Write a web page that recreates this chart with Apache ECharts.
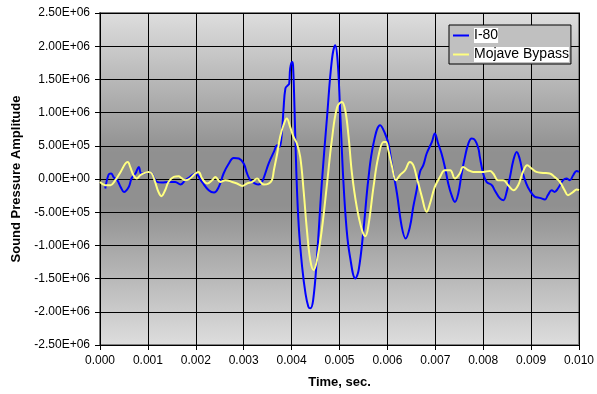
<!DOCTYPE html>
<html>
<head>
<meta charset="utf-8">
<script src="https://cdn.jsdelivr.net/npm/echarts@6/dist/echarts.min.js"></script>
<style>html,body{margin:0;padding:0;background:#fff}#c{width:597px;height:394px}</style>
</head>
<body>
<div id="c"></div>
<script>
var seriesNames = ['I-80', 'Mojave Bypass'];
var xTitle = 'Time, sec.';
var yTitle = 'Sound Pressure Amplitude';

var i80Time = [0.00011,0.00018,0.00023,0.00029,0.00036,0.00043,0.0005,0.0006,0.00066,0.00074,0.00081,0.00086,0.00093,0.00101,0.00108,0.00119,0.00129,0.00143,0.00157,0.00168,0.00178,0.00188,0.00199,0.00213,0.00227,0.00238,0.00248,0.00258,0.00269,0.00279,0.0029,0.003,0.00307,0.00314,0.00324,0.00331,0.00338,0.00345,0.00352,0.00363,0.0037,0.00375,0.0038,0.00383,0.00387,0.00392,0.00395,0.00397,0.00401,0.00403,0.00406,0.0041,0.00415,0.00422,0.00429,0.00435,0.00439,0.00445,0.00453,0.00463,0.00474,0.00484,0.00491,0.00496,0.00501,0.00508,0.00515,0.00522,0.00533,0.0054,0.0055,0.0056,0.00571,0.00585,0.00595,0.00602,0.00609,0.0062,0.0063,0.00638,0.00647,0.00654,0.00661,0.00668,0.00675,0.00682,0.00693,0.00699,0.00706,0.00713,0.0072,0.00727,0.00734,0.00741,0.00748,0.00755,0.00762,0.00769,0.00776,0.00783,0.0079,0.00793,0.008,0.00807,0.00818,0.00824,0.00835,0.00842,0.00849,0.00856,0.00863,0.0087,0.00876,0.00883,0.0089,0.00897,0.00908,0.00918,0.00929,0.00935,0.00943,0.00949,0.00956,0.00967,0.00974,0.00981,0.00988,0.00995,0.01];
var i80Value = [-143000,68000,83000,23000,-18000,-119000,-194000,-119000,12000,83000,182000,83000,87000,107000,83000,-44000,-53000,-44000,-44000,-83000,-18000,32000,83000,-44000,-169000,-203000,-119000,83000,233000,318000,308000,233000,83000,-18000,-68000,-83000,-44000,83000,233000,408000,509000,483000,734000,1035000,1362000,1411000,1437000,1663000,1762000,1712000,1085000,83000,-721000,-1323000,-1723000,-1924000,-1948000,-1824000,-1172000,-68000,934000,1787000,2013000,1787000,1085000,-18000,-770000,-1172000,-1497000,-1372000,-770000,-18000,534000,809000,685000,534000,233000,-218000,-721000,-895000,-721000,-420000,-169000,107000,208000,384000,558000,685000,534000,384000,182000,-68000,-244000,-345000,-218000,83000,333000,534000,609000,584000,459000,333000,83000,-44000,-93000,-169000,-293000,-319000,-194000,32000,283000,408000,308000,83000,-68000,-169000,-269000,-284000,-308000,-244000,-169000,-194000,-143000,-18000,8000,-18000,57000,122000,107000];

var mojTime = [0,0.00011,0.00022,0.00032,0.00043,0.00053,0.00058,0.00063,0.0007,0.00077,0.00084,0.00091,0.00101,0.00108,0.00115,0.00122,0.00128,0.00136,0.00143,0.00154,0.00164,0.00171,0.00178,0.00188,0.00199,0.00206,0.00213,0.00224,0.00234,0.00241,0.00251,0.00262,0.00276,0.00286,0.00297,0.00307,0.00318,0.00328,0.00335,0.00342,0.00352,0.00359,0.00363,0.0037,0.00376,0.00383,0.0039,0.00397,0.00404,0.00411,0.00418,0.00425,0.00432,0.00439,0.00446,0.00453,0.00463,0.00474,0.00484,0.00495,0.00505,0.00512,0.00519,0.00526,0.00536,0.00547,0.00554,0.0056,0.00571,0.00581,0.00592,0.00597,0.00602,0.00609,0.00618,0.00626,0.00637,0.00647,0.00654,0.00661,0.00672,0.00682,0.00689,0.00699,0.0071,0.0072,0.00731,0.00741,0.00751,0.00758,0.00769,0.00779,0.008,0.00814,0.00821,0.00831,0.00842,0.00852,0.00863,0.00873,0.00883,0.00892,0.00901,0.00911,0.00925,0.00939,0.00949,0.0096,0.0097,0.00977,0.00988,0.00995,0.01];
var mojValue = [-44000,-93000,-93000,-18000,107000,233000,257000,182000,57000,8000,57000,83000,107000,83000,-44000,-194000,-259000,-169000,-44000,32000,42000,8000,-18000,8000,83000,107000,8000,-68000,-18000,32000,-44000,-18000,-44000,-68000,-104000,-68000,-44000,8000,-44000,-83000,-68000,-18000,132000,384000,633000,809000,910000,784000,633000,534000,333000,-169000,-770000,-1222000,-1372000,-1222000,-770000,-68000,584000,1080000,1160000,1035000,633000,83000,-420000,-770000,-861000,-721000,-119000,333000,558000,558000,433000,208000,-18000,57000,132000,257000,208000,32000,-269000,-495000,-369000,-119000,32000,132000,132000,8000,83000,182000,132000,107000,107000,122000,83000,-18000,-18000,-93000,-169000,-93000,107000,208000,158000,107000,92000,83000,32000,-44000,-169000,-244000,-194000,-158000,-169000];

function zip(a, b) { var r = []; for (var i = 0; i < a.length; i++) r.push([a[i], b[i]]); return r; }
function sci(v) {
  if (Math.abs(v) < 1e-9) return '0.00E+00';
  var s = v.toExponential(2).split('e');
  var e = parseInt(s[1], 10);
  var es = (e < 0 ? '-' : '+') + (Math.abs(e) < 10 ? '0' : '') + Math.abs(e);
  return s[0] + 'E' + es;
}

var FONT = "'Liberation Sans', Arial, sans-serif";
var chart = echarts.init(document.getElementById('c'));
chart.setOption({
  animation: false,
  backgroundColor: '#ffffff',
  textStyle: { fontFamily: FONT },
  grid: {
    left: 100, right: 18, top: 13, bottom: 49,
    show: true,
    borderColor: '#808080', borderWidth: 2,
    backgroundColor: {
      type: 'linear', x: 0, y: 0, x2: 0, y2: 1,
      colorStops: [
        { offset: 0, color: '#dedede' },
        { offset: 0.42, color: '#909090' },
        { offset: 0.58, color: '#909090' },
        { offset: 1, color: '#dedede' }
      ]
    }
  },
  legend: {
    orient: 'vertical',
    left: 449, top: 25,
    backgroundColor: '#c0c0c0',
    borderColor: '#000000', borderWidth: 1, borderRadius: 0,
    padding: [3, 2, 2, 4],
    icon: 'rect',
    itemWidth: 16, itemHeight: 2, itemGap: 4,
    textStyle: { fontFamily: FONT, fontSize: 14, color: '#000', backgroundColor: '#ffffff', padding: [1, 0, 0, 0] },
    data: seriesNames
  },
  xAxis: {
    type: 'value', min: 0, max: 0.01, interval: 0.001,
    name: xTitle, nameLocation: 'middle', nameGap: 31,
    nameTextStyle: { fontFamily: FONT, fontSize: 13, fontWeight: 'bold', color: '#000' },
    axisLine: { show: true, onZero: false, lineStyle: { color: '#000', width: 1 } },
    axisTick: { show: true, length: 5, lineStyle: { color: '#000' } },
    axisLabel: { fontFamily: FONT, fontSize: 12, color: '#000', margin: 10, formatter: function (v) { return v.toFixed(3); } },
    splitLine: { show: true, lineStyle: { color: '#000', width: 1 } }
  },
  yAxis: {
    type: 'value', min: -2500000, max: 2500000, interval: 500000,
    name: yTitle, nameLocation: 'middle', nameGap: 71, nameRotate: 90,
    nameTextStyle: { fontFamily: FONT, fontSize: 13, fontWeight: 'bold', color: '#000' },
    axisLine: { show: true, onZero: false, lineStyle: { color: '#000', width: 1 } },
    axisTick: { show: true, length: 5, lineStyle: { color: '#000' } },
    axisLabel: { fontFamily: FONT, fontSize: 12, color: '#000', margin: 10, formatter: sci },
    splitLine: { show: true, lineStyle: { color: '#000', width: 1 } }
  },
  series: [
    { name: seriesNames[0], type: 'line', data: zip(i80Time, i80Value), smooth: 0.4, showSymbol: false, symbol: 'none',
      lineStyle: { color: '#0000ff', width: 2 }, itemStyle: { color: '#0000ff' }, z: 3 },
    { name: seriesNames[1], type: 'line', data: zip(mojTime, mojValue), smooth: 0.4, showSymbol: false, symbol: 'none',
      lineStyle: { color: '#ffff80', width: 2 }, itemStyle: { color: '#ffff80' }, z: 4 }
  ]
});
</script>
</body>
</html>
